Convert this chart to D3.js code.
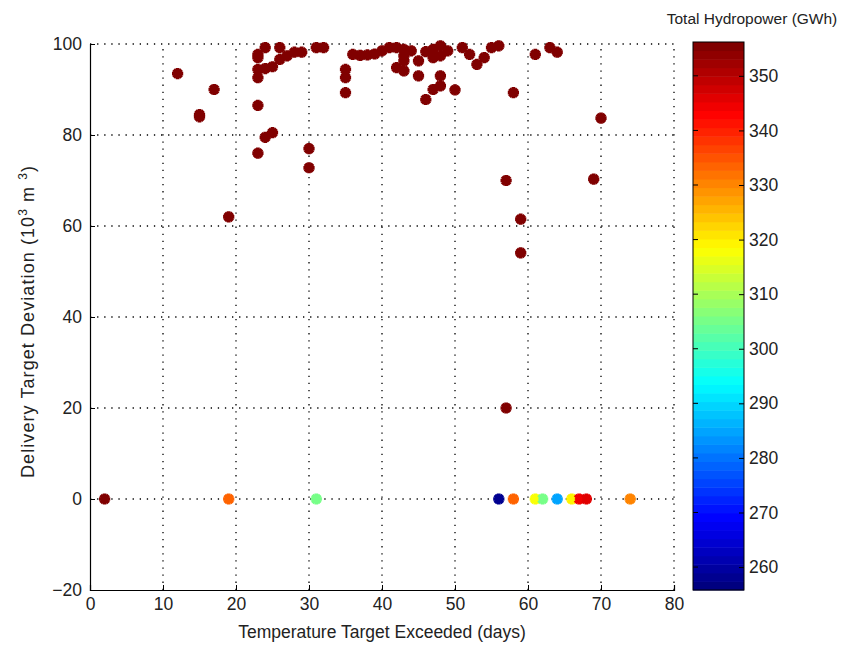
<!DOCTYPE html>
<html><head><meta charset="utf-8">
<script src="https://cdn.jsdelivr.net/npm/d3@7"></script>
<style>body{margin:0;background:#fff}text{font-family:"Liberation Sans",Arial,sans-serif}</style>
</head><body>
<svg id="c" width="842" height="650"></svg>
<script>
// Data: [days exceeded, delivery deviation, hydropower GWh]
const topDays = [12,17,15,15,19,23,23,24,25,23,23,24,26,23,24,23,25,26,27,28,29,31,32,30,30,36,37,38,39,40,41,42,43,43,43,42,43,45,45,35,35,35,46,47,48,48,50,46,47,47,48,48,49,51,52,53,54,55,56,58,61,63,64,57,69,59,59,57,70,44];
const topDev  = [93.5,90,84.5,84,62,86.5,76,79.5,80.5,97.7,97,99.2,99.2,94.4,94.6,92.6,95,96.6,97.4,98.2,98.2,99.2,99.2,77,72.8,97.7,97.5,97.6,97.8,98.5,99.2,99.2,98.8,97.4,96.3,94.8,94.1,96.3,93,94.4,92.6,89.3,87.8,90,90.8,93,89.9,98.3,97,98.8,99.6,97.4,98.5,99.2,97.7,95.5,97,99.2,99.6,89.3,97.7,99.2,98.2,70,70.3,61.5,54.1,20,83.7,98.5];
const topPower = 356;
const zeroDays  = [2,19,31,56,58,61,62,64,66,67,68,74];
const zeroDev   = [0,0,0,0,0,0,0,0,0,0,0,0];
const zeroPower = [356,334,305,258,333,318,305,285,320,345,346,330];
const xTicks = [0,10,20,30,40,50,60,70,80];
const yTicks = [-20,0,20,40,60,80,100];
const cTicks = [260,270,280,290,300,310,320,330,340,350];
const cDomain = [255.8,356.2];

const pts = topDays.map((d,i)=>({x:d,y:topDev[i],p:topPower}))
  .concat(zeroDays.map((d,i)=>({x:d,y:zeroDev[i],p:zeroPower[i]})));

function jet(t){ // MATLAB jet
  t=Math.max(0,Math.min(1,t));
  const f=v=>Math.max(0,Math.min(1,v));
  const r=f(Math.min(4*t-1.5,-4*t+4.5));
  const g=f(Math.min(4*t-0.5,-4*t+3.5));
  const b=f(Math.min(4*t+0.5,-4*t+2.5));
  return d3.rgb(r*255,g*255,b*255).toString();
}
const cNorm = d3.scaleLinear().domain(cDomain).range([0,1]).clamp(true);
const color = v=>jet(Math.floor(cNorm(v)*63.999)/63);

const svg=d3.select("#c");
const L=90,R=674,T=44,B=590;
const x=d3.scaleLinear().domain([0,80]).range([L,R]);
const y=d3.scaleLinear().domain([-20,100]).range([B,T]);

// grid
const g=svg.append("g");
g.selectAll(".gx").data(xTicks.slice(1)).join("line")
 .attr("x1",d=>x(d)).attr("x2",d=>x(d)).attr("y1",B).attr("y2",T)
 .attr("stroke","#000").attr("stroke-width",1.3).attr("stroke-dasharray","1.3,5.8");
g.selectAll(".gy").data(yTicks.slice(1)).join("line")
 .attr("y1",d=>y(d)).attr("y2",d=>y(d)).attr("x1",L).attr("x2",R)
 .attr("stroke","#000").attr("stroke-width",1.3).attr("stroke-dasharray","1.3,5.8");

// axes
const xa=svg.append("g").attr("transform",`translate(0,${B})`)
 .call(d3.axisBottom(x).tickValues(xTicks).tickSize(-5).tickPadding(8));
const ya=svg.append("g").attr("transform",`translate(${L},0)`)
 .call(d3.axisLeft(y).tickValues(yTicks).tickSize(-5).tickPadding(8));
[xa,ya].forEach(a=>{a.select(".domain").attr("stroke","#000").attr("stroke-width",1.2);
 a.selectAll("text").attr("font-size",17.5).attr("fill","#222").attr("font-family","Liberation Sans, Arial");
 a.selectAll(".tick line").attr("stroke","#000");});
xa.select(".tick:first-of-type line").remove();
xa.selectAll("text").attr("dy","0.71em");

// points
const pg=svg.append("g");
pg.selectAll("circle").data(pts).join("circle")
 .attr("cx",d=>x(d.x)).attr("cy",d=>y(d.y)).attr("r",4.4)
 .attr("fill",d=>color(d.p));
pg.selectAll("path.s").data(pts).join("path").attr("class","s")
 .attr("d",d3.symbol().type(d3.symbolCross).size(70))
 .attr("transform",d=>`translate(${x(d.x)},${y(d.y)})`)
 .attr("fill",d=>color(d.p));
pg.selectAll("path.s2").data(pts).join("path").attr("class","s2")
 .attr("d",d3.symbol().type(d3.symbolCross).size(70))
 .attr("transform",d=>`translate(${x(d.x)},${y(d.y)}) rotate(45)`)
 .attr("fill",d=>color(d.p));

// axis labels
svg.append("text").attr("x",(L+R)/2).attr("y",638).attr("text-anchor","middle")
 .attr("font-size",17.5).attr("fill","#222").text("Temperature Target Exceeded (days)");
const yl=svg.append("text").attr("transform",`translate(34,322) rotate(-90)`)
 .attr("text-anchor","middle").attr("font-size",18).attr("fill","#222")
 .attr("textLength",312).attr("lengthAdjust","spacing");
yl.append("tspan").text("Delivery Target Deviation (10");
yl.append("tspan").attr("baseline-shift","super").attr("font-size",12).text("3");
yl.append("tspan").text(" m ");
yl.append("tspan").attr("baseline-shift","super").attr("font-size",12).text("3");
yl.append("tspan").text(")");

// colorbar
const CL=693,CR=744,CT=42,CB=590;
const cy=d3.scaleLinear().domain(cDomain).range([CB,CT]);
const n=64, bh=(CB-CT)/n;
svg.append("g").selectAll("rect").data(d3.range(n)).join("rect")
 .attr("x",CL).attr("width",CR-CL).attr("y",i=>CB-(i+1)*bh).attr("height",bh+0.5)
 .attr("fill",i=>jet(i/63));
svg.append("rect").attr("x",CL).attr("y",CT).attr("width",CR-CL).attr("height",CB-CT)
 .attr("fill","none").attr("stroke","#000").attr("stroke-width",1);
const ca=svg.append("g").attr("transform",`translate(${CR},0)`)
 .call(d3.axisRight(cy).tickValues(cTicks).tickSize(-5).tickPadding(5));
ca.select(".domain").remove();
ca.selectAll("text").attr("font-size",17.5).attr("fill","#222").attr("font-family","Liberation Sans, Arial");
ca.selectAll(".tick line").attr("stroke","#000");
svg.append("g").selectAll("line").data(cTicks).join("line")
 .attr("x1",CL).attr("x2",CL+5).attr("y1",d=>cy(d)).attr("y2",d=>cy(d)).attr("stroke","#000");
svg.append("text").attr("x",752).attr("y",24).attr("text-anchor","middle")
 .attr("font-size",15.5).attr("fill","#222").text("Total Hydropower (GWh)");
</script>
</body></html>
